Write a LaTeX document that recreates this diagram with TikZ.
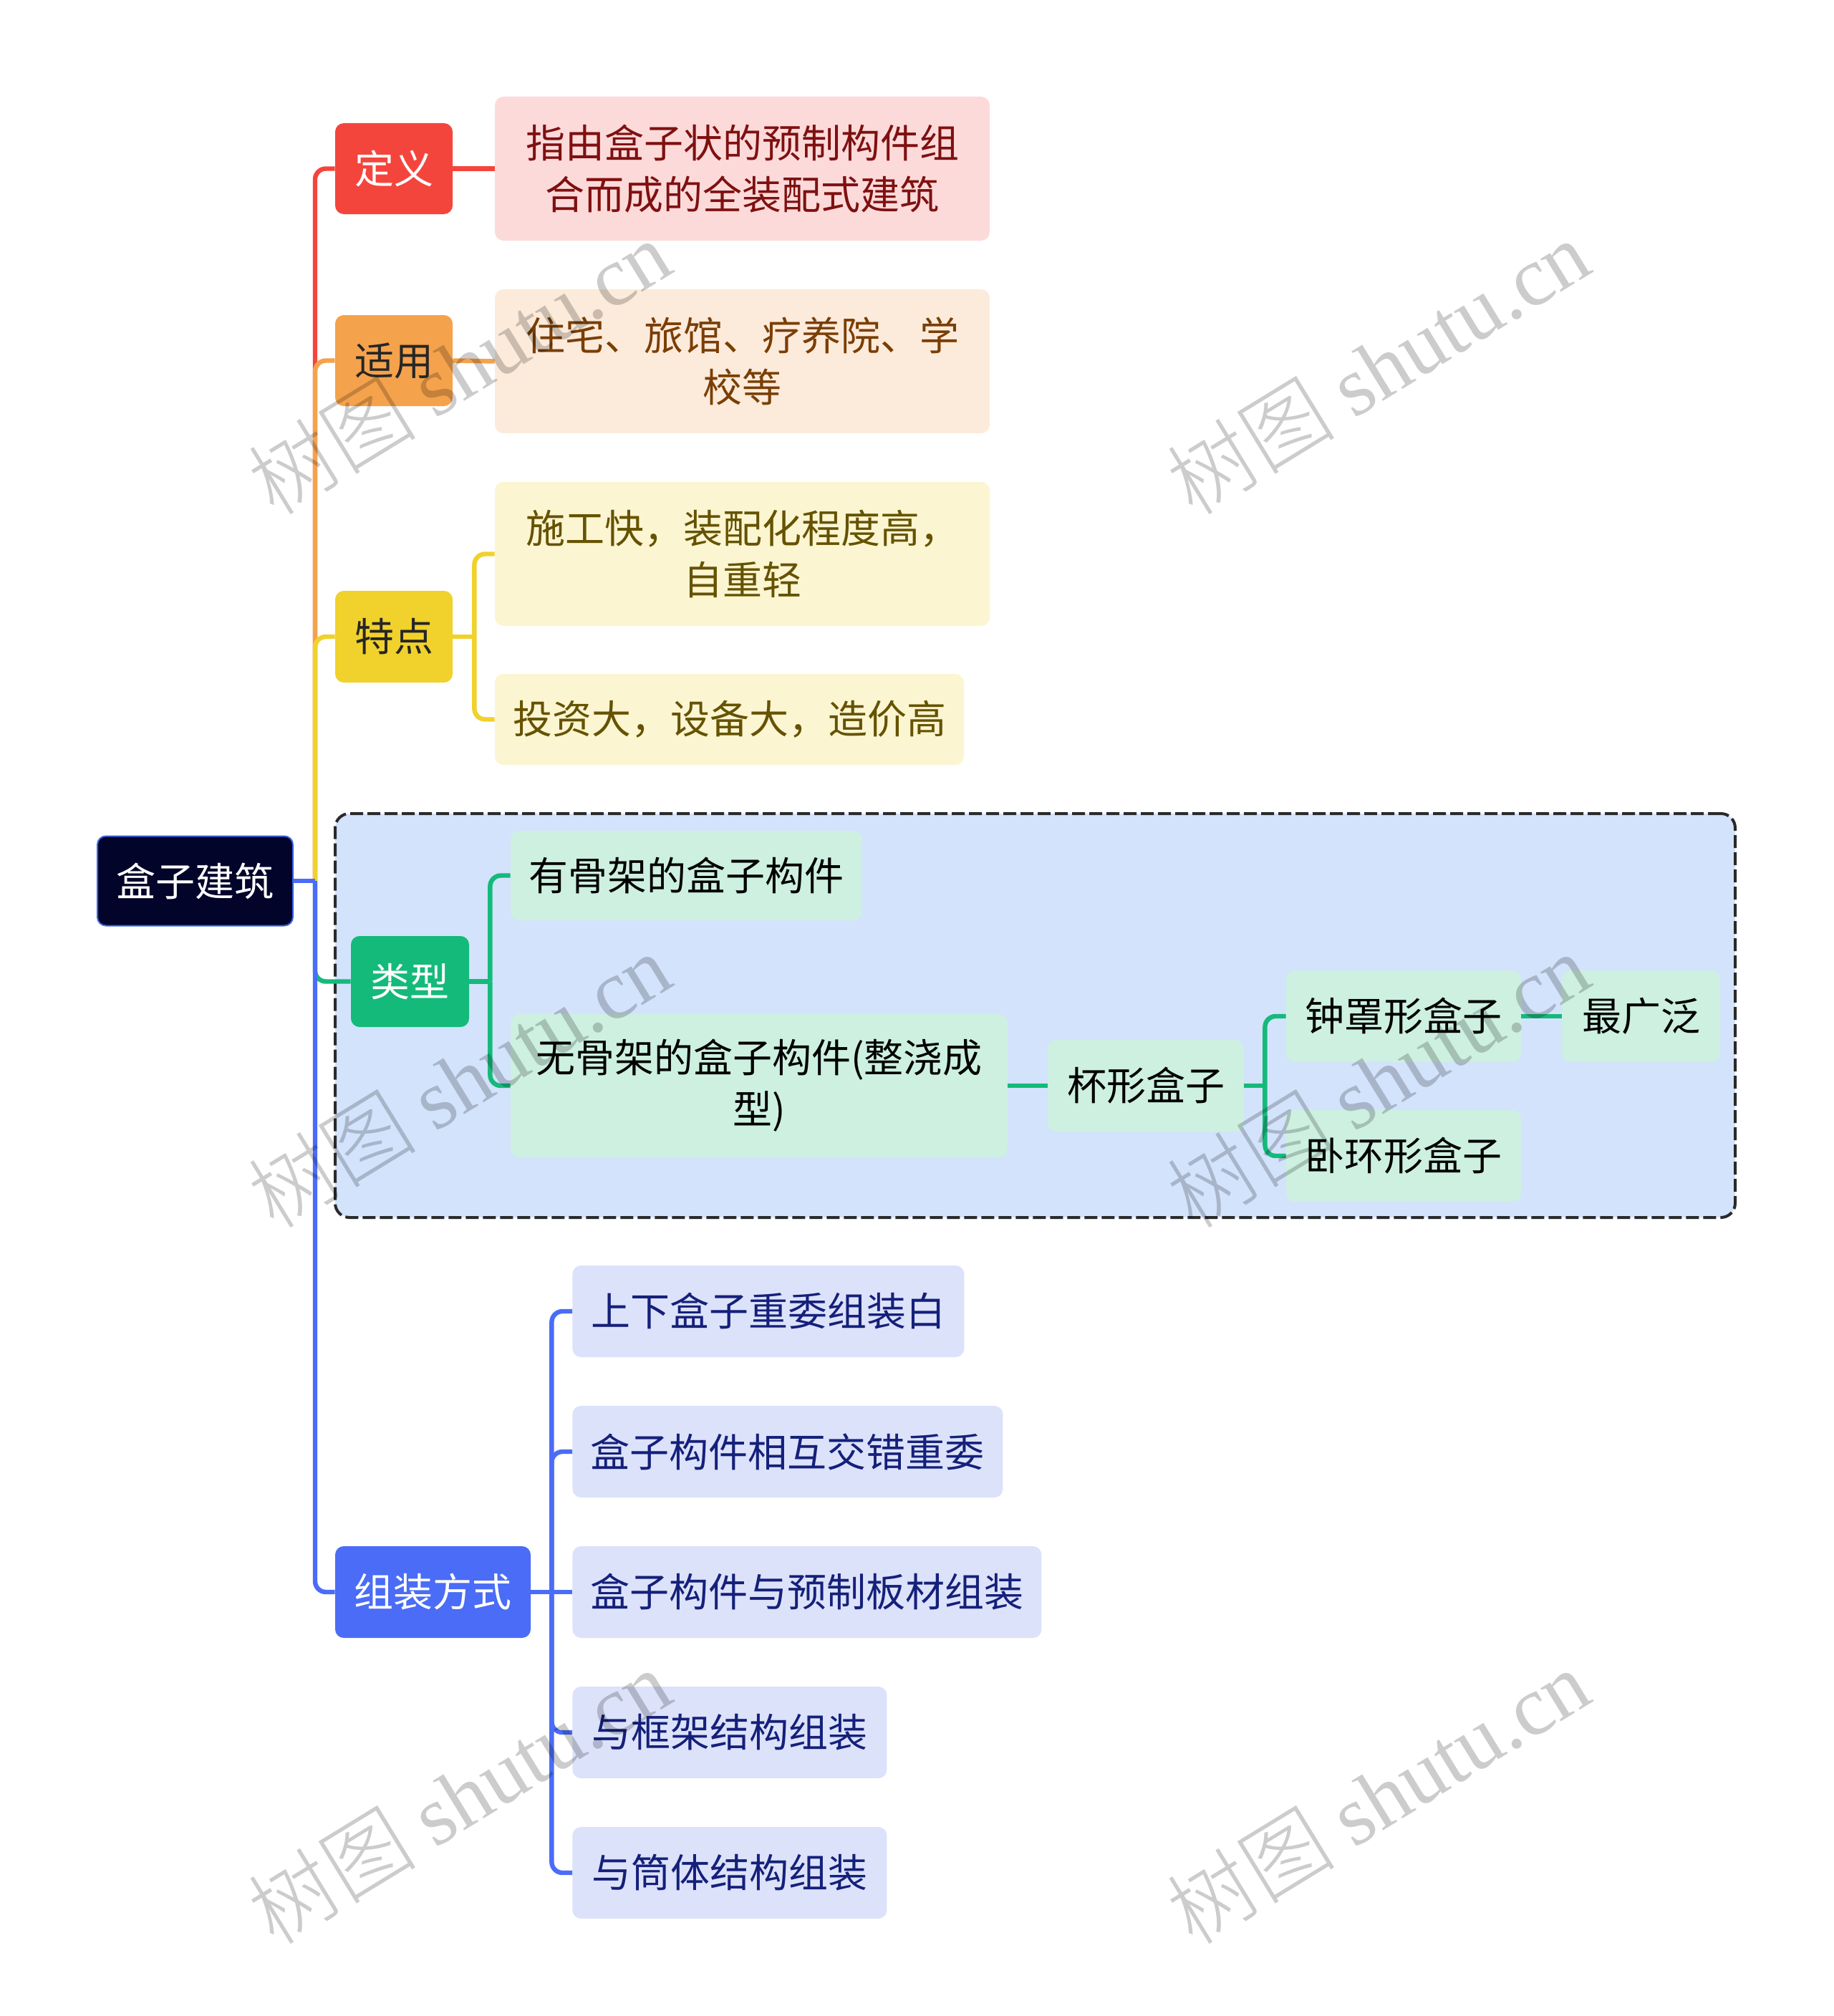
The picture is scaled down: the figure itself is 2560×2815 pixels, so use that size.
\documentclass[tikz,border=0pt]{standalone}
\usepackage{fontspec}
\setmainfont{Noto Sans CJK SC}
\newfontfamily\wmserif{Liberation Serif}
\newfontfamily\wmcjk{Noto Sans CJK SC Light}
\usetikzlibrary{calc}
\definecolor{croot}{HTML}{02042A}
\definecolor{crootb}{HTML}{3B62E0}
\definecolor{cred}{HTML}{F4453D}
\definecolor{credl}{HTML}{FDDADA}
\definecolor{credt}{HTML}{7F1010}
\definecolor{corg}{HTML}{F4A24C}
\definecolor{corgl}{HTML}{FCEBDB}
\definecolor{corgt}{HTML}{7A3E05}
\definecolor{cyel}{HTML}{F1D12B}
\definecolor{cyell}{HTML}{FBF5D1}
\definecolor{cyelt}{HTML}{655200}
\definecolor{cgrn}{HTML}{14BA7A}
\definecolor{cgrnl}{HTML}{CDF0E1}
\definecolor{cgrp}{HTML}{D3E3FC}
\definecolor{cgrpb}{HTML}{2A2A2A}
\definecolor{cblu}{HTML}{4A6CF7}
\definecolor{cblul}{HTML}{DCE2FA}
\definecolor{cblut}{HTML}{15207A}
\begin{document}
\begin{tikzpicture}[x=0.5pt,y=-0.5pt,
  box/.style={rounded corners=6pt, inner sep=0pt, align=center,
    font=\fontsize{27.5}{36}\selectfont},
  conn/.style={line width=3.2pt},
  brk/.style={line width=3.2pt, rounded corners=7.5pt},
  wm/.style={text=black, text opacity=0.2, rotate=31.5, inner sep=0pt,
    font=\fontsize{59}{66}\selectfont}]
\useasboundingbox (0,0) rectangle (2560,2815);
\fill[white] (0,0) rectangle (2560,2815);

% group background
\node[draw=cgrpb, fill=cgrp, line width=2pt, dash pattern=on 9pt off 3pt,
  rounded corners=10pt, minimum width=977.5pt, minimum height=282pt, inner sep=0pt]
  (grp) at (1445.5,1418) {};

% nodes
\node[box, fill=croot, draw=crootb, line width=1pt, text=white,
  minimum width=136.5pt, minimum height=62.5pt] (root) at (272.5,1230) {盒子建筑};

\node[box, fill=cred, text=white, minimum width=82pt, minimum height=63.5pt] (def) at (550,235.5) {定义};
\node[box, fill=credl, text=credt, minimum width=345.5pt, minimum height=100.5pt] (deft) at (1036.5,235.5) {指由盒子状的预制构件组\\合而成的全装配式建筑};

\node[box, fill=corg, text=black!85, minimum width=82pt, minimum height=63.5pt] (use) at (550,503.5) {适用};
\node[box, fill=corgl, text=corgt, minimum width=345.5pt, minimum height=100.5pt] (uset) at (1036.5,504.5) {住宅、旅馆、疗养院、学\\校等};

\node[box, fill=cyel, text=black!85, minimum width=82pt, minimum height=64pt] (feat) at (550,889) {特点};
\node[box, fill=cyell, text=cyelt, minimum width=345.5pt, minimum height=100.5pt] (f1) at (1036.5,773.5) {施工快，装配化程度高，\\自重轻};
\node[box, fill=cyell, text=cyelt, minimum width=327.5pt, minimum height=63.5pt] (f2) at (1018.5,1004.5) {投资大，设备大，造价高};

\node[box, fill=cgrn, text=white, minimum width=82.5pt, minimum height=63.5pt] (type) at (572.5,1370.5) {类型};
\node[box, fill=cgrnl, text=black, minimum width=245.5pt, minimum height=62.5pt] (t1) at (958.5,1222.5) {有骨架的盒子构件};
\node[box, fill=cgrnl, text=black, minimum width=347pt, minimum height=100pt] (t2) at (1060,1516) {无骨架的盒子构件(整浇成\\型)};
\node[box, fill=cgrnl, text=black, minimum width=137pt, minimum height=64pt] (cup) at (1600,1516) {杯形盒子};
\node[box, fill=cgrnl, text=black, minimum width=164pt, minimum height=64pt] (bell) at (1960,1419) {钟罩形盒子};
\node[box, fill=cgrnl, text=black, minimum width=110.5pt, minimum height=64pt] (most) at (2291.5,1419) {最广泛};
\node[box, fill=cgrnl, text=black, minimum width=164pt, minimum height=64pt] (ring) at (1960,1614) {卧环形盒子};

\node[box, fill=cblu, text=white, minimum width=136.5pt, minimum height=64pt] (asm) at (604.5,2223) {组装方式};
\node[box, fill=cblul, text=cblut, minimum width=273.5pt, minimum height=64pt, anchor=west] (a1) at (799,1831) {上下盒子重委组装白};
\node[box, fill=cblul, text=cblut, minimum width=300.5pt, minimum height=64pt, anchor=west] (a2) at (799,2027) {盒子构件相互交错重委};
\node[box, fill=cblul, text=cblut, minimum width=327.5pt, minimum height=64pt, anchor=west] (a3) at (799,2223) {盒子构件与预制板材组装};
\node[box, fill=cblul, text=cblut, minimum width=219.5pt, minimum height=64pt, anchor=west] (a4) at (799,2419) {与框架结构组装};
\node[box, fill=cblul, text=cblut, minimum width=219.5pt, minimum height=64pt, anchor=west] (a5) at (799,2615) {与筒体结构组装};

% trunk junction
\coordinate (j) at ($(root.east)+(30,0)$);
\draw[brk, cred] (j) -- (j |- def.west) -- (def.west);
\draw[brk, corg] (j) -- (j |- use.west) -- (use.west);
\draw[brk, cyel] (j) -- (j |- feat.west) -- (feat.west);
\draw[brk, cgrn] (j) -- (j |- type.west) -- (type.west);
\draw[brk, cblu] (j) -- (j |- asm.west) -- (asm.west);
\draw[conn, cblu] (root.east) -- (j);

% sub connectors
\draw[conn, cred] (def.east) -- (deft.west);
\draw[conn, corg] (use.east) -- (uset.west);

\coordinate (fj) at ($(feat.east)+(30,0)$);
\draw[conn, cyel] (feat.east) -- (fj);
\draw[brk, cyel] (fj) -- (fj |- f1.west) -- (f1.west);
\draw[brk, cyel] (fj) -- (fj |- f2.west) -- (f2.west);

\coordinate (tj) at ($(type.east)+(29,0)$);
\draw[conn, cgrn] (type.east) -- (tj);
\draw[brk, cgrn] (tj) -- (tj |- t1.west) -- (t1.west);
\draw[brk, cgrn] (tj) -- (tj |- t2.west) -- (t2.west);
\draw[conn, cgrn] (t2.east) -- (cup.west);

\coordinate (cj) at ($(cup.east)+(29,0)$);
\draw[conn, cgrn] (cup.east) -- (cj);
\draw[brk, cgrn] (cj) -- (cj |- bell.west) -- (bell.west);
\draw[brk, cgrn] (cj) -- (cj |- ring.west) -- (ring.west);
\draw[conn, cgrn] (bell.east) -- (most.west);

\coordinate (aj) at ($(asm.east)+(29,0)$);
\draw[conn, cblu] (asm.east) -- (a3.west);
\draw[brk, cblu] (aj) -- (aj |- a1.west) -- (a1.west);
\draw[brk, cblu] (aj) -- (aj |- a2.west) -- (a2.west);
\draw[brk, cblu] (aj) -- (aj |- a4.west) -- (a4.west);
\draw[brk, cblu] (aj) -- (aj |- a5.west) -- (a5.west);

% watermarks
\node[wm] (w1) at (641,512) {\wmcjk 树图 {\wmserif shutu.cn}};
\node[wm] (w2) at (1924,512) {\wmcjk 树图 {\wmserif shutu.cn}};
\node[wm] (w3) at (641,1508) {\wmcjk 树图 {\wmserif shutu.cn}};
\node[wm] (w4) at (1924,1508) {\wmcjk 树图 {\wmserif shutu.cn}};
\node[wm] (w5) at (641,2508) {\wmcjk 树图 {\wmserif shutu.cn}};
\node[wm] (w6) at (1924,2508) {\wmcjk 树图 {\wmserif shutu.cn}};
\end{tikzpicture}
\end{document}
